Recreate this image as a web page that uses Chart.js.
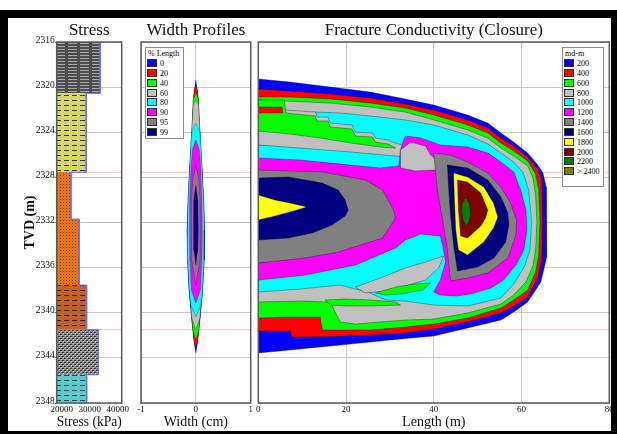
<!DOCTYPE html>
<html>
<head>
<meta charset="utf-8">
<title>Stress, width and conductivity</title>
<script src="https://cdn.jsdelivr.net/npm/chart.js"></script>
<style>
  html, body { margin: 0; padding: 0; background: #fff; }
  body { position: relative; width: 617px; height: 434px; overflow: hidden; font-family: "Liberation Serif", "Times New Roman", serif; }
  #frame { position: absolute; left: 0; top: 10px; width: 617px; height: 424px; background: #000; }
  #paper { position: absolute; left: 8px; top: 18px; width: 603px; height: 413px; background: #fff; }
  canvas { position: absolute; top: 18px; }
  #stressChart { left: 8px; }
  #widthChart { left: 136px; }
  #condChart { left: 254px; }
  .legend { position: absolute; background: #fff; border: 1px solid #8c8c8c; box-sizing: border-box; font-size: 8px; color: #000; }
  .legend .ttl { height: 11px; line-height: 11px; padding-left: 2px; color: #000; }
  .legend .row { height: 9.85px; line-height: 9.85px; white-space: nowrap; color: #000; }
  .legend .sw { display: inline-block; width: 8px; height: 6px; border: 1px solid #333; margin: 0 3px 0 1px; vertical-align: -1px; }
</style>
</head>
<body>
<div id="frame"></div>
<div id="paper"></div>
<canvas id="stressChart" width="128" height="413"></canvas>
<canvas id="widthChart" width="118" height="413"></canvas>
<canvas id="condChart" width="362" height="413"></canvas>
<div id="widthLegend" class="legend" style="left:145px;top:47px;width:39px;height:92px;"></div>
<div id="condLegend" class="legend" style="left:562px;top:47px;width:42px;height:140px;"></div>
<script>
// depth axis (TVD, m) shared by the three panels
var tvdMin = 2316, tvdMax = 2348;
var tvdTicks = [2316, 2320, 2324, 2328, 2332, 2336, 2340, 2344, 2348];
var perfLines = [2327.55, 2341.5];

// stress log
var layerTop    = [2316, 2320.55, 2327.55, 2331.7, 2337.55, 2341.5, 2345.5];
var layerBottom = [2320.55, 2327.55, 2331.7, 2337.55, 2341.5, 2345.5, 2348];
var layerStress = [33700, 28700, 23300, 26200, 28900, 33100, 28900];
var stressMin = 18200, stressMax = 41400;
var stressTicks = [20000, 30000, 40000];

// width profiles (half width in cm at depth), % of length
var profileNames = ['0', '20', '40', '60', '80', '90', '95', '99'];
var profileColors = ['#0000ff', '#ff0000', '#00ff00', '#c0c0c0', '#00ffff', '#ff00ff', '#808080', '#000080'];
var w0Tvd  = [2319.37, 2320.26, 2321.14, 2323.18, 2324.69, 2327.35, 2330.01, 2332.67, 2335.33, 2337.99, 2340.38, 2341.53, 2342.42, 2343.13, 2343.57];
var w0Half = [0, 0.027, 0.045, 0.064, 0.082, 0.118, 0.145, 0.164, 0.155, 0.127, 0.082, 0.055, 0.036, 0.018, 0];
var w20Tvd  = [2319.81, 2320.26, 2321.14, 2323.18, 2324.69, 2327.35, 2332.67, 2337.99, 2340.38, 2341.53, 2342.42, 2343.13];
var w20Half = [0, 0.029, 0.047, 0.065, 0.082, 0.1, 0.109, 0.1, 0.073, 0.055, 0.038, 0];
var w40Tvd  = [2320.43, 2321.14, 2323.18, 2324.69, 2327.35, 2332.67, 2337.99, 2340.38, 2341.53, 2342.42];
var w40Half = [0, 0.047, 0.065, 0.082, 0.1, 0.109, 0.1, 0.073, 0.055, 0];
var w60Tvd  = [2321.14, 2321.59, 2323.18, 2324.69, 2327.35, 2332.67, 2337.99, 2340.38, 2341.53];
var w60Half = [0, 0.047, 0.065, 0.084, 0.109, 0.127, 0.109, 0.076, 0];
var w80Tvd  = [2323.18, 2323.80, 2324.69, 2327.35, 2330.01, 2332.67, 2335.33, 2337.99, 2339.32, 2340.38];
var w80Half = [0, 0.064, 0.084, 0.113, 0.142, 0.155, 0.149, 0.122, 0.091, 0];
var w90Tvd  = [2324.69, 2325.57, 2327.35, 2330.01, 2332.67, 2335.33, 2337.99, 2339.14];
var w90Half = [0, 0.064, 0.091, 0.109, 0.118, 0.109, 0.082, 0];
var w95Tvd  = [2326.90, 2328.23, 2330.01, 2332.67, 2335.33, 2337.54];
var w95Half = [0, 0.055, 0.073, 0.082, 0.073, 0];
var w99Tvd  = [2328.68, 2330.01, 2332.67, 2334.44, 2335.77];
var w99Half = [0, 0.036, 0.045, 0.036, 0];

// conductivity contours (length m, TVD m), md-m
var condLabels = ['200', '400', '600', '800', '1000', '1200', '1400', '1600', '1800', '2000', '2200', '> 2400'];
var condColors = ['#0000ff', '#ff0000', '#00ff00', '#c0c0c0', '#00ffff', '#ff00ff', '#808080', '#000080', '#ffff00', '#800000', '#008000', '#808000'];

var c200x = [0, 7.2, 16.4, 25.5, 33.5, 40, 47.7, 52.3, 55.3, 58.2, 61.4, 63.7, 64.9, 65.6, 65.8, 65.6, 64.4, 61.4, 58.2, 55.3, 47.7, 40, 32.4, 25.5, 16.4, 7.2, 0];
var c200y = [2319.28, 2319.55, 2319.99, 2320.43, 2321.05, 2321.59, 2322.47, 2323.18, 2324.07, 2324.87, 2325.84, 2326.90, 2327.61, 2328.85, 2331.96, 2335.15, 2337.28, 2339.05, 2339.94, 2340.65, 2341.35, 2342.06, 2342.33, 2342.60, 2342.95, 2343.30, 2343.57];
var c400x = [0, 7.2, 16.4, 25.5, 33.5, 40, 47.7, 52.3, 55.3, 58.2, 61.4, 63.7, 64.6, 64.8, 64.6, 63.7, 61.4, 58.2, 55.3, 47.7, 40, 33.5, 25.5, 16.4, 7.7, 7.2, 0];
var c400y = [2320.17, 2320.34, 2320.61, 2320.96, 2321.50, 2322.03, 2322.91, 2323.62, 2324.51, 2325.22, 2326.19, 2327.26, 2328.23, 2331.96, 2335.33, 2336.92, 2338.61, 2339.40, 2340.02, 2340.82, 2341.44, 2341.80, 2341.97, 2342.11, 2342.15, 2341.62, 2341.62];
var c600x = [0, 7.2, 16.4, 25.5, 33.5, 40, 47.7, 52.3, 55.3, 58.2, 61.4, 63.2, 63.9, 64.2, 63.9, 63.2, 61.4, 58.2, 55.3, 47.7, 40, 33.5, 25.5, 14.6, 14.1, 7.2, 0];
var c600y = [2320.88, 2320.88, 2321.05, 2321.41, 2321.85, 2322.47, 2323.36, 2324.07, 2324.95, 2325.66, 2326.55, 2327.70, 2329.12, 2331.96, 2334.88, 2336.39, 2337.99, 2338.87, 2339.58, 2340.47, 2341.00, 2341.27, 2341.53, 2341.53, 2340.38, 2340.38, 2340.47];
var c800x = [0, 6.1, 16.4, 25.5, 33.5, 40, 47.7, 52.3, 55.3, 58.2, 61.4, 62.6, 63.2, 63.5, 63.2, 62.6, 61.0, 58.2, 55.3, 47.7, 40, 33.5, 27.8, 22.1, 18.7, 17.5, 16.4, 9.5, 0];
var c800y = [2321.14, 2321.23, 2321.41, 2321.76, 2322.21, 2322.91, 2323.80, 2324.51, 2325.40, 2326.11, 2326.99, 2328.06, 2329.56, 2331.96, 2334.44, 2335.86, 2337.28, 2338.43, 2339.23, 2340.02, 2340.56, 2340.65, 2340.82, 2341.00, 2340.82, 2339.94, 2339.05, 2338.96, 2339.05];
var g600x = [15.2, 19.8, 25.5, 31.3, 32.4, 25.5, 19.8, 16.4];
var g600y = [2338.87, 2338.78, 2338.87, 2339.05, 2339.32, 2339.40, 2339.40, 2339.32];
var c1000x = [0, 12.5, 12.5, 18.7, 25.5, 33.5, 40, 47.7, 52.3, 55.3, 58.2, 60.3, 61.6, 62.3, 61.9, 60.7, 58.2, 55.3, 47.7, 40, 33.5, 29.0, 25.5, 18.7, 9.5, 0];
var c1000y = [2325.13, 2325.13, 2322.21, 2322.29, 2322.56, 2322.91, 2323.36, 2324.24, 2325.04, 2325.84, 2326.64, 2327.52, 2329.12, 2331.96, 2334.44, 2335.86, 2337.45, 2338.70, 2339.40, 2339.32, 2338.96, 2338.87, 2338.25, 2337.54, 2337.90, 2338.16];
var t800x = [22.1, 27.8, 33.5, 38.1, 42.2, 41.1, 38.1, 33.5, 29.0, 24.4];
var t800y = [2337.72, 2336.92, 2336.04, 2335.50, 2334.97, 2336.04, 2337.10, 2337.63, 2338.07, 2338.25];
var t600x = [26.7, 31.3, 35.8, 39.3, 37.4, 32.4, 29.0];
var t600y = [2338.25, 2337.72, 2337.45, 2337.37, 2337.99, 2338.34, 2338.43];
var s800x = [0, 6.3, 13.0, 13.4, 15.9, 16.4, 21.4, 22.1, 26.0, 26.7, 29.6, 30.6, 33.5, 33.5, 21.0, 9.5, 0];
var s800y = [2322.03, 2322.03, 2322.21, 2322.65, 2322.65, 2323.18, 2323.36, 2323.98, 2324.07, 2324.51, 2324.69, 2324.87, 2325.22, 2326.19, 2325.75, 2325.40, 2325.13];
var w600x = [0, 5.9, 6.3, 13.0, 13.4, 15.9, 16.4, 21.4, 22.1, 26.0, 26.7, 29.6, 31.3, 27.8, 21.0, 14.1, 7.2, 0];
var w600y = [2321.14, 2321.14, 2322.29, 2322.56, 2323.00, 2323.00, 2323.54, 2323.71, 2324.33, 2324.42, 2324.87, 2325.04, 2325.40, 2325.31, 2324.95, 2324.51, 2324.16, 2323.89];
var r400x = [0, 5.4, 5.6, 0];
var r400y = [2321.76, 2321.76, 2322.29, 2322.29];
var c1200x = [0, 9.5, 18.7, 27.8, 32.0, 32.4, 33.5, 37.0, 41.5, 47.7, 52.3, 55.3, 58.2, 59.8, 61.0, 61.2, 60.5, 58.7, 55.9, 53.0, 48.4, 45.0, 41.5, 40.0, 41.5, 42.7, 42.0, 41.5, 37.0, 33.5, 31.3, 22.1, 10.7, 0];
var c1200y = [2326.28, 2326.46, 2326.82, 2327.17, 2326.99, 2325.57, 2324.33, 2324.51, 2325.13, 2325.31, 2325.84, 2326.64, 2327.52, 2329.12, 2330.89, 2332.67, 2334.44, 2335.77, 2337.10, 2337.81, 2338.34, 2338.52, 2338.43, 2338.16, 2337.10, 2335.50, 2334.00, 2333.20, 2333.02, 2333.55, 2334.26, 2335.77, 2336.66, 2337.10];
var i800x = [32.4, 34.7, 38.1, 39.3, 41.1, 40.6, 35.8, 32.4];
var i800y = [2325.57, 2324.87, 2325.22, 2326.02, 2326.64, 2327.35, 2327.44, 2327.17];
var c1400ax = [0, 14.6, 24.4, 28.3, 29.6, 30.8, 31.3, 28.3, 18.2, 10.7, 0];
var c1400ay = [2327.35, 2327.52, 2328.23, 2329.12, 2330.01, 2330.89, 2331.60, 2333.38, 2334.62, 2335.15, 2335.59];
var c1400bx = [40.0, 43.8, 47.7, 52.3, 55.3, 57.5, 58.9, 58.7, 56.9, 52.3, 47.7, 43.8, 43.1, 42.0, 40.8];
var c1400by = [2325.84, 2326.02, 2326.64, 2327.61, 2328.85, 2330.27, 2331.78, 2333.11, 2335.15, 2336.48, 2336.92, 2337.19, 2334.44, 2331.78, 2329.12];
var c1600ax = [0, 6.8, 10.7, 14.6, 18.2, 19.8, 20.5, 19.8, 16.8, 12.3, 6.8, 0];
var c1600ay = [2328.06, 2327.97, 2328.23, 2328.50, 2329.12, 2330.01, 2330.89, 2331.43, 2332.23, 2332.93, 2333.38, 2333.55];
var c1600bx = [43.1, 47.7, 52.3, 55.3, 56.9, 57.1, 56.4, 53.7, 50.0, 45.4, 44.5, 43.8, 43.4];
var c1600by = [2326.90, 2327.17, 2328.23, 2329.74, 2331.16, 2332.23, 2333.73, 2335.15, 2335.95, 2336.30, 2334.00, 2331.34, 2329.12];
var c1800ax = [0, 3.8, 7.2, 11.1, 7.2, 3.8, 0];
var c1800ay = [2329.56, 2330.01, 2330.27, 2330.63, 2331.07, 2331.43, 2331.78];
var c1800bx = [44.5, 47.7, 51.4, 53.6, 54.6, 53.6, 51.4, 47.7, 45.6, 45.0, 44.7];
var c1800by = [2327.61, 2327.97, 2328.85, 2330.27, 2331.51, 2332.49, 2333.73, 2334.88, 2334.44, 2332.67, 2330.01];
var c2000x = [45.4, 47.7, 50.7, 52.3, 51.8, 50.7, 47.7, 46.1, 45.6];
var c2000y = [2328.23, 2328.41, 2329.39, 2330.89, 2331.60, 2332.31, 2333.38, 2333.20, 2330.89];
var c2200x = [47.3, 48.2, 48.4, 47.9, 47.3, 46.6, 46.3, 46.6];
var c2200y = [2329.74, 2330.45, 2331.34, 2332.05, 2332.31, 2331.78, 2330.89, 2330.18];

var serif = '"Liberation Serif", "Times New Roman", serif';
Chart.defaults.font.family = serif;
Chart.defaults.color = '#111';

function closed(xs, ys) {
  var p = xs.map(function (x, i) { return { x: x, y: ys[i] }; });
  p.push({ x: xs[0], y: ys[0] });
  return p;
}
function shape(data, fillColor, order, edge, edgeWidth) {
  return { data: data, fill: 'shape', backgroundColor: fillColor,
    borderColor: edge || 'rgba(0,0,0,0.55)', borderWidth: edgeWidth === undefined ? 0.6 : edgeWidth,
    pointRadius: 0, pointHoverRadius: 0, tension: 0, order: order };
}
function perfLine(v, x0, x1) {
  return { data: [{ x: x0, y: v }, { x: x1, y: v }], fill: false, borderColor: 'rgba(255,70,70,0.35)',
    borderWidth: 1, pointRadius: 0, order: 1000 };
}

// outline round the plot area
var boxPlugin = {
  id: 'boxPlugin',
  afterDatasetsDraw: function (chart) {
    var a = chart.chartArea, ctx = chart.ctx;
    ctx.save();
    ctx.strokeStyle = '#5a5a5a';
    ctx.lineWidth = 1.5;
    ctx.strokeRect(a.left, a.top, a.right - a.left, a.bottom - a.top);
    ctx.restore();
  }
};

function tvdAxis(withLabels, w) {
  return {
    type: 'linear', reverse: true, min: tvdMin, max: tvdMax,
    afterBuildTicks: function (s) { s.ticks = tvdTicks.map(function (v) { return { value: v }; }); },
    grid: { color: '#c8c8c8', drawTicks: withLabels, tickLength: 2, tickColor: '#777' },
    border: { display: false },
    ticks: { display: withLabels, padding: 0, labelOffset: -2, font: { size: 9.5 }, color: '#111',
      callback: function (v) { return String(v); } },
    title: { display: withLabels, text: 'TVD (m)', color: '#111', font: { size: 14, weight: 'bold' },
      padding: { top: 13.6, bottom: 0 } },
    afterFit: function (s) { s.width = w; }
  };
}
function valueAxis(min, max, ticks, text, showGrid) {
  return {
    type: 'linear', min: min, max: max,
    afterBuildTicks: function (s) { s.ticks = ticks.map(function (v) { return { value: v }; }); },
    grid: { display: showGrid, color: '#c8c8c8', drawTicks: false },
    border: { display: false },
    ticks: { padding: 1, font: { size: 9 }, color: '#111', maxRotation: 0, autoSkip: false,
      callback: function (v) { return String(v); } },
    title: { display: true, text: text, color: '#111', font: { size: 14 }, padding: { top: 0, bottom: 0.6 } },
    afterFit: function (s) { s.height = 28; }
  };
}
function options(title, xAx, yAx, padRight) {
  return {
    responsive: false, animation: false, events: [],
    layout: { padding: { left: 0, right: padRight, top: 0, bottom: 0 } },
    plugins: {
      legend: { display: false }, tooltip: { enabled: false },
      title: { display: true, text: title, fullSize: false, color: '#111',
        font: { size: 17, weight: 'normal' }, padding: { top: 2, bottom: 1.6 } }
    },
    scales: { x: xAx, y: yAx }
  };
}

// ---- stress panel ----
function makePattern(w, h, base, paint) {
  var c = document.createElement('canvas');
  c.width = w; c.height = h;
  var g = c.getContext('2d');
  g.fillStyle = base; g.fillRect(0, 0, w, h);
  paint(g);
  return document.getElementById('stressChart').getContext('2d').createPattern(c, 'repeat');
}
function dashes(col) { return function (g) { g.fillStyle = col; g.fillRect(0, 2, 5, 1); }; }
function dots(col) { return function (g) { g.fillStyle = col; g.fillRect(1, 1, 1, 1); }; }
var layerFills = [
  makePattern(12, 3, '#4e4e4e', function (g) { g.fillStyle = '#a8a8a8'; g.fillRect(0, 1, 9, 1); }),
  makePattern(8, 5, '#d6d66c', dashes('#3c3c1e')),
  makePattern(3, 3, '#e5760e', dots('#8a3c00')),
  makePattern(3, 3, '#e5760e', dots('#8a3c00')),
  makePattern(8, 5, '#c0622a', dashes('#3a1c0c')),
  makePattern(4, 4, '#8c8c8c', function (g) {
    g.fillStyle = '#3a3a3a'; g.fillRect(0, 0, 2, 1); g.fillRect(2, 2, 2, 1);
    g.fillStyle = '#d0d0d0'; g.fillRect(1, 1, 1, 1); g.fillRect(3, 3, 1, 1);
  }),
  makePattern(8, 5, '#5ccaca', dashes('#244c4c'))
];

var stressSets = [];
var outline = [];
for (var i = 0; i < layerStress.length; i++) {
  stressSets.push(shape([
    { x: stressMin, y: layerTop[i] }, { x: layerStress[i], y: layerTop[i] },
    { x: layerStress[i], y: layerBottom[i] }, { x: stressMin, y: layerBottom[i] },
    { x: stressMin, y: layerTop[i] }
  ], layerFills[i], 100 - i, 'rgba(0,0,0,0)', 0));
  outline.push({ x: layerStress[i], y: layerTop[i] }, { x: layerStress[i], y: layerBottom[i] });
}
stressSets.push({ data: outline, fill: false, borderColor: '#6a6aff', borderWidth: 1, pointRadius: 0, order: 1 });
perfLines.forEach(function (v) { stressSets.push(perfLine(v, stressMin, stressMax)); });

new Chart(document.getElementById('stressChart'), {
  type: 'line',
  data: { datasets: stressSets },
  options: options('Stress', valueAxis(stressMin, stressMax, stressTicks, 'Stress (kPa)', false), tvdAxis(true, 48.7), 14.3),
  plugins: [boxPlugin]
});

// ---- width panel ----
var profiles = [[w0Tvd, w0Half], [w20Tvd, w20Half], [w40Tvd, w40Half], [w60Tvd, w60Half],
  [w80Tvd, w80Half], [w90Tvd, w90Half], [w95Tvd, w95Half], [w99Tvd, w99Half]];
var widthSets = profiles.map(function (p, k) {
  var tvd = p[0], half = p[1];
  var xs = half.slice(), ys = tvd.slice();
  for (var j = half.length - 2; j > 0; j--) { xs.push(-half[j]); ys.push(tvd[j]); }
  return shape(closed(xs, ys), profileColors[k], 100 - k, 'rgba(0,0,0,0.45)', 0.5);
});
perfLines.forEach(function (v) { widthSets.push(perfLine(v, -1, 1)); });

new Chart(document.getElementById('widthChart'), {
  type: 'line',
  data: { datasets: widthSets },
  options: options('Width Profiles', valueAxis(-1, 1, [-1, 0, 1], 'Width (cm)', true), tvdAxis(false, 5), 3.3),
  plugins: [boxPlugin]
});

// ---- conductivity panel (painted from outer to inner) ----
var contours = [
  [0, c200x, c200y], [1, c400x, c400y], [2, c600x, c600y], [3, c800x, c800y], [2, g600x, g600y],
  [4, c1000x, c1000y], [3, t800x, t800y], [2, t600x, t600y], [3, s800x, s800y], [2, w600x, w600y],
  [1, r400x, r400y], [5, c1200x, c1200y], [3, i800x, i800y], [6, c1400ax, c1400ay], [6, c1400bx, c1400by],
  [7, c1600ax, c1600ay], [7, c1600bx, c1600by], [8, c1800ax, c1800ay], [8, c1800bx, c1800by],
  [9, c2000x, c2000y], [10, c2200x, c2200y]
];
var condSets = contours.map(function (c, k) {
  return shape(closed(c[1], c[2]), condColors[c[0]], 200 - k);
});
perfLines.forEach(function (v) { condSets.push(perfLine(v, 0, 80)); });

new Chart(document.getElementById('condChart'), {
  type: 'line',
  data: { datasets: condSets },
  options: options('Fracture Conductivity (Closure)', valueAxis(0, 80, [0, 20, 40, 60, 80], 'Length (m)', true), tvdAxis(false, 4.3), 6.7),
  plugins: [boxPlugin]
});

// ---- legends ----
function buildLegend(id, title, labels, colors) {
  var html = '<div class="ttl">' + title + '</div>';
  labels.forEach(function (l, i) {
    html += '<div class="row"><span class="sw" style="background:' + colors[i] + '"></span>' +
      l.replace('>', '&gt;') + '</div>';
  });
  document.getElementById(id).innerHTML = html;
}
buildLegend('widthLegend', '% Length', profileNames, profileColors);
buildLegend('condLegend', 'md-m', condLabels, condColors);
</script>
</body>
</html>
